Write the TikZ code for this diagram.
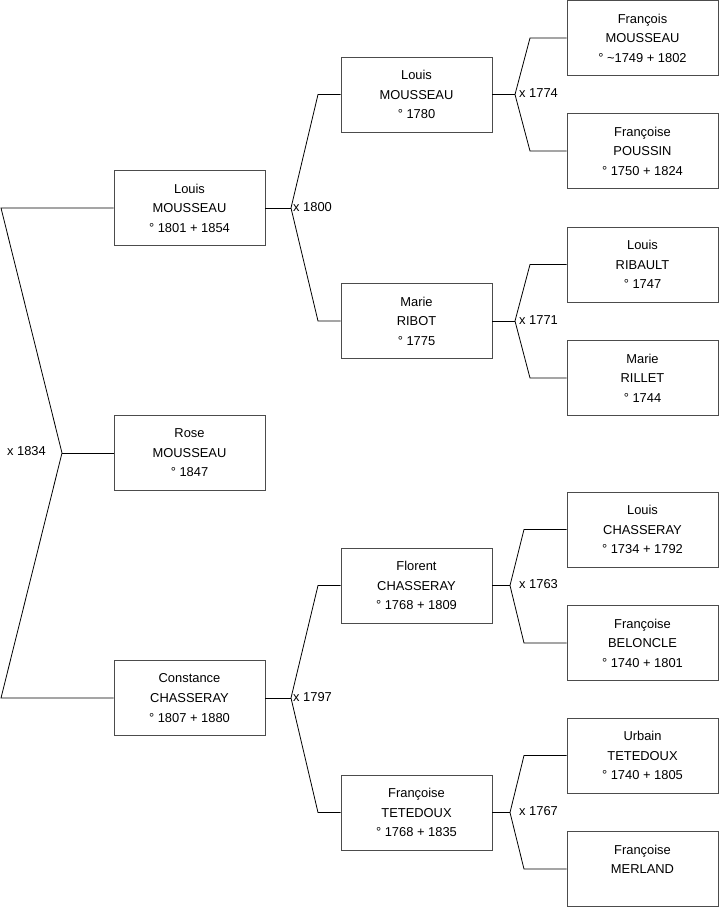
\documentclass[tikz,border=0pt]{standalone}
\usepackage{fontspec}
\setmainfont{Liberation Sans}
\begin{document}
\begin{tikzpicture}[x=1pt,y=-1pt,
  person/.style={draw=black!70,line width=0.9pt,fill=white,minimum width=151pt,minimum height=75pt,
    inner sep=0pt,align=center,font=\fontsize{12.9}{19.6}\selectfont},
  link/.style={draw=black,line width=0.8pt},
  marr/.style={inner sep=0pt,font=\fontsize{12.9}{15}\selectfont}]
\useasboundingbox (0,0) rectangle (719,908);
% column 1
\node[person] (L1) at (189.5,208) {Louis\\MOUSSEAU\\° 1801 + 1854};
\node[person] (R1) at (189.5,453) {Rose\\MOUSSEAU\\° 1847};
\node[person] (C1) at (189.5,698) {Constance\\CHASSERAY\\° 1807 + 1880};
% column 2
\node[person] (L2) at (416.5,94.5) {Louis\\MOUSSEAU\\° 1780};
\node[person] (M2) at (416.5,321) {Marie\\RIBOT\\° 1775};
\node[person] (F2) at (416.5,585.5) {Florent\\CHASSERAY\\° 1768 + 1809};
\node[person] (T2) at (416.5,812.5) {Françoise\\TETEDOUX\\° 1768 + 1835};
% column 3
\node[person] (P1) at (642.5,38) {François\\MOUSSEAU\\° \textasciitilde 1749 + 1802};
\node[person] (P2) at (642.5,151) {Françoise\\POUSSIN\\° 1750 + 1824};
\node[person] (P3) at (642.5,264.5) {Louis\\RIBAULT\\° 1747};
\node[person] (P4) at (642.5,378) {Marie\\RILLET\\° 1744};
\node[person] (P5) at (642.5,529.5) {Louis\\CHASSERAY\\° 1734 + 1792};
\node[person] (P6) at (642.5,643) {Françoise\\BELONCLE\\° 1740 + 1801};
\node[person] (P7) at (642.5,755.5) {Urbain\\TETEDOUX\\° 1740 + 1805};
\node[person] (P8) at (642.5,869) {Françoise\\MERLAND\\\mbox{}};
% junctions
\coordinate (J0) at (62,453);
\coordinate (J0a) at (1,208);
\coordinate (J0b) at (1,698);
\coordinate (J1) at (291,208);
\coordinate (J1a) at (318,94.5);
\coordinate (J1b) at (318,321);
\coordinate (J2) at (291,698);
\coordinate (J2a) at (318,585.5);
\coordinate (J2b) at (318,812.5);
\coordinate (J3) at (515,94.5);
\coordinate (J3a) at (530,38);
\coordinate (J3b) at (530,151);
\coordinate (J4) at (515,321);
\coordinate (J4a) at (530,264.5);
\coordinate (J4b) at (530,378);
\coordinate (J5) at (510,585.5);
\coordinate (J5a) at (524,529.5);
\coordinate (J5b) at (524,643);
\coordinate (J6) at (510,812.5);
\coordinate (J6a) at (524,755.5);
\coordinate (J6b) at (524,869);
% connectors
\draw[link] (L1.west) -- (J0a) -- (J0) -- (J0b) -- (C1.west);
\draw[link] (J0) -- (R1.west);
\draw[link] (L1.east) -- (J1);
\draw[link] (L2.west) -- (J1a) -- (J1) -- (J1b) -- (M2.west);
\draw[link] (C1.east) -- (J2);
\draw[link] (F2.west) -- (J2a) -- (J2) -- (J2b) -- (T2.west);
\draw[link] (L2.east) -- (J3);
\draw[link] (P1.west) -- (J3a) -- (J3) -- (J3b) -- (P2.west);
\draw[link] (M2.east) -- (J4);
\draw[link] (P3.west) -- (J4a) -- (J4) -- (J4b) -- (P4.west);
\draw[link] (F2.east) -- (J5);
\draw[link] (P5.west) -- (J5a) -- (J5) -- (J5b) -- (P6.west);
\draw[link] (T2.east) -- (J6);
\draw[link] (P7.west) -- (J6a) -- (J6) -- (J6b) -- (P8.west);
% marriage labels
\node[marr,anchor=east] (m0) at (46,451.5) {x 1834};
\node[marr,anchor=west] (m1) at (293,207) {x 1800};
\node[marr,anchor=west] (m2) at (293,697) {x 1797};
\node[marr,anchor=west] (m3) at (519,93) {x 1774};
\node[marr,anchor=west] (m4) at (519,320) {x 1771};
\node[marr,anchor=west] (m5) at (519,584) {x 1763};
\node[marr,anchor=west] (m6) at (519,811) {x 1767};
\end{tikzpicture}
\end{document}
